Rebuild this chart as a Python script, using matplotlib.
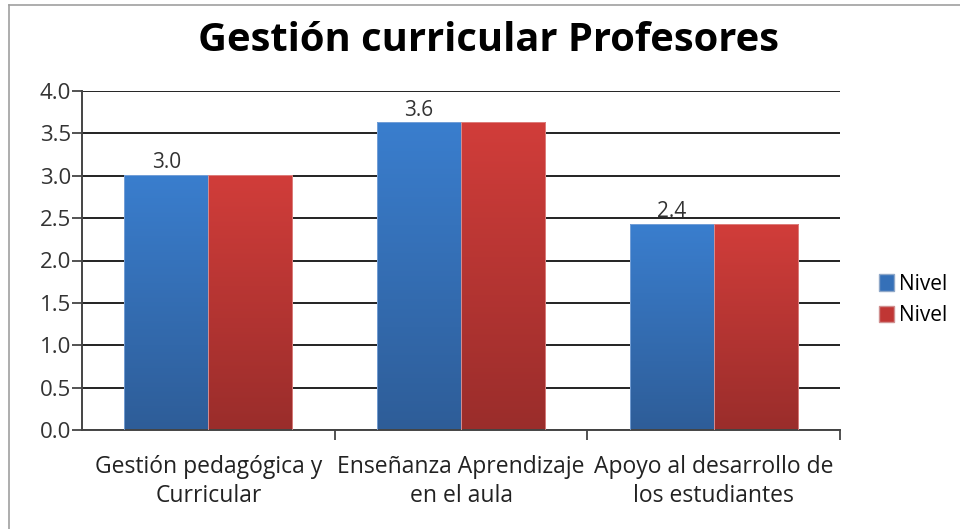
import numpy as np
import matplotlib.pyplot as plt
from matplotlib.colors import LinearSegmentedColormap
from matplotlib.patches import Patch

# data
categories = ["Gestión pedagógica y\nCurricular",
              "Enseñanza Aprendizaje\nen el aula",
              "Apoyo al desarrollo de\nlos estudiantes"]
nivel_1 = [3.01, 3.63, 2.43]
nivel_2 = [3.01, 3.63, 2.43]
value_labels = ["3.0", "3.6", "2.4"]
yticks = [0.0, 0.5, 1.0, 1.5, 2.0, 2.5, 3.0, 3.5, 4.0]

plt.rcParams['font.family'] = ['Open Sans', 'DejaVu Sans']

fig = plt.figure(figsize=(9.6, 5.29), dpi=100)
ax = fig.add_axes([82/960, 1 - 430/529, (840-82)/960, (430-91)/529])

blue_cmap = LinearSegmentedColormap.from_list("b", ["#2E5D98", "#3A7ECE"])
red_cmap = LinearSegmentedColormap.from_list("r", ["#9A2D2B", "#D13D3A"])

x = np.arange(len(categories))
w = 0.333

def grad_bars(xs, vals, cmap, edge):
    bars = ax.bar(xs, vals, w, color="none", edgecolor=edge, linewidth=0.6, zorder=3)
    grad = np.linspace(0, 1, 256).reshape(-1, 1)
    for b in bars:
        x0, y0 = b.get_x(), b.get_y()
        im = ax.imshow(grad, cmap=cmap, origin="lower", aspect="auto",
                       extent=[x0, x0 + b.get_width(), y0, y0 + b.get_height()], zorder=2.5)
        im.set_clip_path(b)
    return bars

b1 = grad_bars(x - w/2, nivel_1, blue_cmap, "#7FA6D9")
b2 = grad_bars(x + w/2, nivel_2, red_cmap, "#E08A88")

for xi, v, lab in zip(x - w/2, nivel_1, value_labels):
    ax.text(xi, v + 0.02, lab, ha="center", va="bottom", fontsize=15, color="#333333")

ax.set_xlim(-0.5, 2.5)
ax.set_ylim(0, 4.0)
ax.set_yticks(yticks)
ax.set_yticklabels(["%.1f" % t for t in yticks], fontsize=16, color="#333333")
ax.yaxis.grid(True, color="#222222", linewidth=1.4)
ax.set_axisbelow(True)

ax.set_xticks([0.5, 1.5, 2.5])
ax.set_xticklabels([])
ax.set_xticks(x, minor=True)
ax.set_xticklabels(categories, minor=True, fontsize=16.5, color="#222222", linespacing=1.3)
ax.tick_params(axis="x", which="minor", length=0, pad=18)
ax.tick_params(axis="x", which="major", length=7, width=1.3, color="#444444")
ax.tick_params(axis="y", length=7, width=1.3, color="#444444", pad=1)

for s in ["top", "right"]:
    ax.spines[s].set_visible(False)
ax.spines["left"].set_color("#444444")
ax.spines["left"].set_linewidth(1.4)
ax.spines["bottom"].set_color("#444444")
ax.spines["bottom"].set_linewidth(1.4)

fig.text(489/960, 1 - 40/529, "Gestión curricular Profesores", ha="center", va="center",
         fontsize=28.7, fontweight="bold", color="black")

handles = [Patch(facecolor="#3570B8", edgecolor="#8FA8C8"), Patch(facecolor="#C03634", edgecolor="#D09090")]
fig.legend(handles, ["Nivel", "Nivel"], loc="center left", bbox_to_anchor=(860/960, 1 - 300/529),
           frameon=False, fontsize=15, handlelength=0.75, handleheight=0.85,
           handletextpad=0.2, labelspacing=0.5)

# outer frame (left and top)
fig.add_artist(plt.Line2D([9/960, 9/960], [0, 1 - 5/529], color="#A0A0A0", linewidth=1.2))
fig.add_artist(plt.Line2D([9/960, 1], [1 - 5/529, 1 - 5/529], color="#A0A0A0", linewidth=1.2))

fig.savefig("out.png", dpi=100)
